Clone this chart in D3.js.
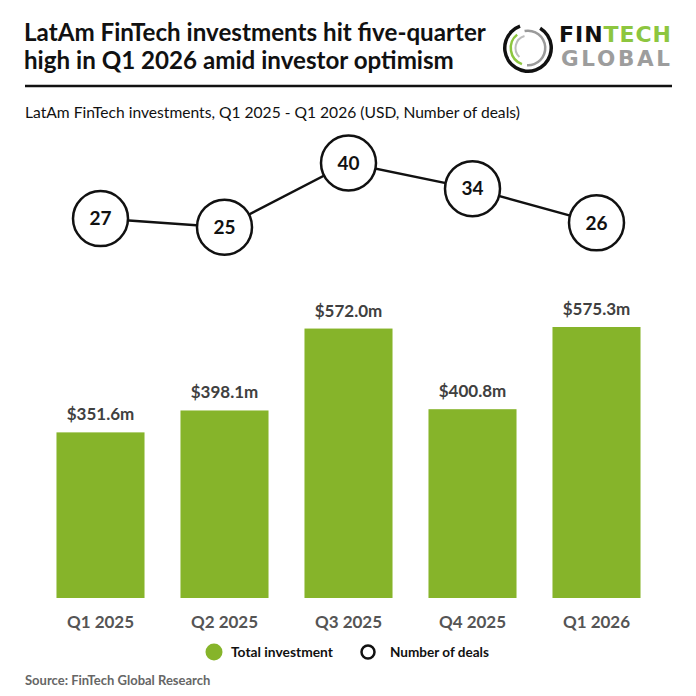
<!DOCTYPE html>
<html><head><meta charset="utf-8">
<script src="https://cdn.jsdelivr.net/npm/d3@7"></script>
<style>
html,body{margin:0;padding:0;background:#fff;}
svg{display:block;font-family:Lato,"Open Sans",sans-serif;}
</style></head>
<body><svg id="c" width="696" height="696"></svg>
<script>
const quarters = ["Q1 2025","Q2 2025","Q3 2025","Q4 2025","Q1 2026"];
const investment = [351.6, 398.1, 572.0, 400.8, 575.3];
const investmentLabels = ["$351.6m","$398.1m","$572.0m","$400.8m","$575.3m"];
const deals = [27, 25, 40, 34, 26];
const titleLines = ["LatAm FinTech investments hit five-quarter","high in Q1 2026 amid investor optimism"];
const subtitle = "LatAm FinTech investments, Q1 2025 - Q1 2026 (USD, Number of deals)";
const legendItems = ["Total investment","Number of deals"];
const source = "Source: FinTech Global Research";

const GREEN = "#86b42a";
const svg = d3.select("#c");

function fit(sel, w){
  const l = sel.node().getComputedTextLength();
  const fs = parseFloat(sel.attr("font-size"));
  sel.attr("font-size", fs * w / l);
}

// Title
let tfs = 24;
titleLines.forEach((t,i)=>{
  const s = svg.append("text").attr("x",24).attr("y",41 + i*28)
    .attr("font-size",tfs).attr("font-weight","bold").attr("fill","#111").text(t);
  if(i===0){ fit(s, 462); tfs = s.attr("font-size"); }
});

// Logo
const lg = svg.append("g").attr("transform","translate(528,48)");
const arc = d3.arc();
lg.append("path").attr("d", arc({innerRadius:21.5,outerRadius:25,startAngle:0.55,endAngle:2*Math.PI-0.35})).attr("fill","#111");
lg.append("path").attr("d", arc({innerRadius:16,outerRadius:18.5,startAngle:-0.2,endAngle:3.2})).attr("fill","#9a9a9a");
lg.append("path").attr("d", arc({innerRadius:16,outerRadius:18.5,startAngle:3.5,endAngle:5.6})).attr("fill","#8dc63f");
lg.append("path").attr("d", arc({innerRadius:11.5,outerRadius:13.5,startAngle:3.9,endAngle:6.0})).attr("fill","#bdbdbd");
const ft = svg.append("text").attr("x",559).attr("y",42).attr("font-size",22).attr("font-weight",900)
  .attr("font-family","'DejaVu Sans',Roboto,sans-serif").attr("textLength",112).attr("lengthAdjust","spacing");
ft.append("tspan").attr("fill","#111").text("FIN");
ft.append("tspan").attr("fill","#8dc63f").text("TECH");
svg.append("text").attr("x",561).attr("y",66).attr("font-size",21.5).attr("font-weight",700)
  .attr("font-family","'DejaVu Sans',Roboto,sans-serif").attr("fill","#9d9d9d")
  .attr("textLength",109).attr("lengthAdjust","spacing").text("GLOBAL");

// Rule
svg.append("line").attr("x1",25).attr("x2",672).attr("y1",86).attr("y2",86).attr("stroke","#111").attr("stroke-width",2.5);

// Subtitle
const st = svg.append("text").attr("x",25).attr("y",118).attr("font-size",16).attr("fill","#111").text(subtitle);
fit(st, 495);

// Scales
const x = d3.scaleBand().domain(quarters).range([38.5,658.5]).paddingInner(0.29).paddingOuter(0.145);
const y = d3.scaleLinear().domain([0,575.3]).range([598,327]);
const yd = d3.scaleLinear().domain([0,40]).range([334,163]);

// Bars
svg.append("g").selectAll("rect").data(investment).join("rect")
  .attr("x",(d,i)=>x(quarters[i])).attr("width",x.bandwidth())
  .attr("y",d=>y(d)).attr("height",d=>y(0)-y(d)).attr("fill",GREEN);
svg.append("g").selectAll("text").data(investment).join("text")
  .attr("x",(d,i)=>x(quarters[i])+x.bandwidth()/2).attr("y",d=>y(d)-12)
  .attr("text-anchor","middle").attr("font-size",17).attr("font-weight","bold").attr("fill","#404040")
  .text((d,i)=>investmentLabels[i]);

// X axis
const xa = svg.append("g").attr("transform","translate(0,598)")
  .call(d3.axisBottom(x).tickSize(0).tickPadding(18));
xa.select(".domain").remove();
xa.selectAll("text").attr("font-size",17).attr("font-weight","bold").attr("fill","#555")
  .attr("font-family","Lato,'Open Sans',sans-serif");

// Deals line
const pts = deals.map((d,i)=>[x(quarters[i])+x.bandwidth()/2, yd(d)]);
svg.append("path").attr("d", d3.line()(pts)).attr("fill","none").attr("stroke","#111").attr("stroke-width",2.5);
const cg = svg.append("g").selectAll("g").data(deals).join("g")
  .attr("transform",(d,i)=>`translate(${pts[i][0]},${pts[i][1]})`);
cg.append("circle").attr("r",27.5).attr("fill","#fff").attr("stroke","#111").attr("stroke-width",2.5);
cg.append("text").attr("text-anchor","middle").attr("dy","0.36em").attr("font-size",19)
  .attr("font-weight","bold").attr("fill","#111").text(d=>d);

// Legend
svg.append("circle").attr("cx",214).attr("cy",652).attr("r",8.5).attr("fill",GREEN);
const l1 = svg.append("text").attr("x",231).attr("y",657).attr("font-size",14).attr("font-weight","bold").attr("fill","#111").text(legendItems[0]);
fit(l1, 102);
svg.append("circle").attr("cx",368).attr("cy",652).attr("r",6.5).attr("fill","#fff").attr("stroke","#111").attr("stroke-width",2.5);
const l2 = svg.append("text").attr("x",390).attr("y",657).attr("font-size",14).attr("font-weight","bold").attr("fill","#111").text(legendItems[1]);
fit(l2, 99);

// Source
svg.append("text").attr("x",25).attr("y",685).attr("font-size",13).attr("font-weight","bold").attr("fill","#666").text(source);
</script></body></html>
